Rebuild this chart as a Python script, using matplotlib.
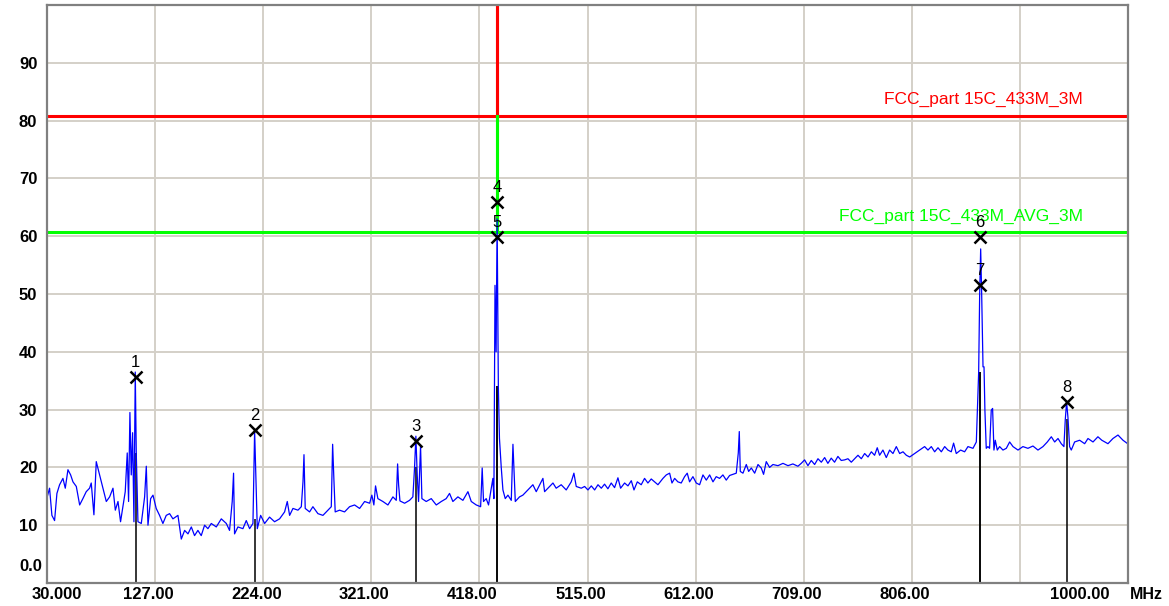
import matplotlib
matplotlib.use('Agg')
import matplotlib.pyplot as plt
from matplotlib.transforms import ScaledTranslation

# spectrum trace (MHz, dBuV/m)
trace_f = [30.2, 32.3, 34.4, 36.8, 38.9, 41.3, 44.3, 46.4, 48.8, 51.2, 53.3, 56.3, 59.3, 62.2,
           65.2, 68.2, 69.7, 72.1, 74.2, 77.2, 80.2, 83.2, 86.2, 89.2, 91.3, 93.7, 96.0, 98.1,
           100.2, 102.0, 103.2, 104.4, 105.6, 106.8, 108.0, 109.2, 110.1, 111.6, 114.6, 117.6,
           119.1, 120.6, 123.0, 125.1, 128.0, 131.0, 134.0, 137.0, 140.0, 143.0, 147.5, 150.5,
           153.5, 156.5, 159.5, 162.4, 165.4, 168.4, 171.4, 174.4, 177.4, 181.9, 186.4, 190.9,
           193.8, 196.2, 197.4, 198.3, 201.3, 205.8, 208.8, 211.8, 214.8, 216.3, 217.5, 218.7,
           221.7, 225.3, 229.7, 234.2, 238.7, 243.2, 245.6, 247.7, 250.7, 255.2, 258.2, 259.7,
           260.6, 261.7, 265.6, 268.6,
           273.1, 277.6, 282.1, 285.1, 286.3, 287.4, 288.6, 292.5, 297.0, 301.5, 306.0, 310.5,
           315.0, 319.5, 321.5, 323.3, 324.8, 326.9, 331.4, 335.9, 340.4, 343.4, 344.6, 345.5,
           346.7, 350.9, 355.3, 358.3, 359.8, 361.0, 362.2, 363.4, 365.2, 366.4, 370.3, 374.8,
           379.3, 383.8, 388.2, 391.2, 394.2, 398.7, 403.2, 407.7, 410.7, 415.2, 419.1, 420.5,
           421.7, 424.1, 426.2, 428.6, 430.1, 431.0, 432.0, 433.0, 433.9, 435.0, 436.0, 437.6,
           439.1, 441.2, 443.6, 446.6, 448.1, 449.0, 450.2, 454.0, 457.0, 461.5, 466.0, 469.0,
           475.0, 476.5, 479.5, 484.0, 486.9, 491.4, 495.9, 500.4, 502.8, 504.9, 509.4,
           512.4, 515.4, 518.4, 521.4, 524.4, 527.4, 530.3, 533.3, 536.3, 539.3, 542.3, 544.7,
           548.3, 551.3, 554.3, 556.7, 559.7, 563.2, 566.2, 569.2, 572.2, 575.2, 578.2, 582.7,
           585.7, 588.7, 590.8, 593.2, 596.1, 599.1, 602.1, 604.5, 606.6, 609.6, 612.6, 615.6,
           618.6, 621.6, 624.6, 627.6, 630.5, 633.5, 636.5, 639.5, 642.5, 645.5, 648.5, 650.3,
           651.2, 652.1, 654.5, 657.5, 659.6, 662.0, 665.0, 668.0, 670.9, 673.0, 675.4, 678.4,
           681.4, 685.9, 690.4, 694.9, 699.3, 703.8, 706.8, 709.8, 712.8, 715.8, 718.8, 721.8,
           724.8, 727.8, 730.7, 733.7, 736.7, 739.7, 742.7, 745.7, 748.7, 751.7, 754.7,
           757.7, 760.7, 763.7, 766.7, 769.7, 772.6, 775.0, 777.1, 780.1, 783.1, 786.1, 789.1,
           792.1, 795.1, 798.1, 801.1, 804.1, 808.5, 813.0, 817.5, 820.5, 823.5, 826.5, 829.5,
           832.5, 835.5, 838.4, 841.4, 843.5, 845.9, 849.8, 853.4, 856.4, 860.9, 863.9, 866.0,
           866.9, 867.8, 868.7, 869.9, 870.8, 871.6, 872.8, 874.3, 875.8, 877.3, 878.5, 879.7,
           880.9, 882.7, 884.8, 887.8, 890.8, 893.8, 896.8, 901.3, 905.7, 910.2, 914.7, 919.2,
           923.7, 927.6, 931.2, 934.2, 937.2, 940.1, 942.5, 943.7, 944.9, 946.1, 947.6, 949.1,
           952.1, 956.6, 961.1, 964.1, 968.6, 973.0, 976.5, 982.0, 986.5, 991.0, 995.5, 999.7]
trace_db = [14.9, 16.4, 11.7, 10.8, 15.5, 17.0, 18.1, 16.4, 19.6, 18.7, 17.5, 16.7, 13.5, 14.6,
            15.8, 16.4, 17.3, 11.8, 21.0, 18.7, 16.4, 14.1, 14.9, 16.4, 12.6, 14.1, 10.6, 13.2,
            15.8, 22.5, 14.1, 29.5, 18.7, 26.0, 10.6, 36.5, 22.5, 10.6, 10.3, 14.9,
            20.2, 10.0, 14.6, 15.2, 12.9, 11.7, 10.3, 11.7, 12.0, 11.1, 11.7, 7.6,
            9.1, 8.5, 9.7, 8.2, 9.1, 8.2, 10.0, 9.4, 10.3, 9.7, 11.1, 10.3,
            9.1, 14.1, 19.0, 8.5, 9.7, 9.4, 10.8, 9.4, 10.3, 26.3, 17.5, 9.4,
            11.7, 10.3, 11.4, 10.6, 11.1, 12.3, 14.1, 11.7, 12.9, 12.6, 13.2, 17.5,
            22.2, 12.9, 12.3, 13.2,
            12.0, 11.7, 12.6, 13.2, 24.0, 18.1, 12.3, 12.6, 12.3, 13.2, 13.5, 12.9,
            14.1, 13.8, 15.2, 13.5, 16.8, 14.6, 14.1, 13.5, 14.9, 14.3, 20.6, 17.0,
            14.2, 13.8, 14.3, 14.9, 19.9, 25.4, 18.7, 14.1, 23.7, 14.6, 14.1, 14.6,
            13.5, 14.1, 14.6, 15.5, 14.1, 14.9, 14.3, 15.8, 14.1, 13.5, 13.2, 19.9,
            14.1, 14.6, 13.5, 16.4, 18.1, 14.6, 51.5, 40.0, 63.0, 34.0, 25.0, 20.0,
            16.1, 14.6, 15.2, 14.3, 24.0, 19.6, 14.1, 14.9, 15.2, 16.1, 17.0, 15.8,
            18.1, 15.8, 16.4, 17.3, 16.4, 17.0, 16.1, 17.5, 19.0, 16.7, 16.4,
            16.7, 16.1, 16.8, 16.1, 17.0, 16.4, 17.1, 16.3, 17.3, 16.5, 18.2, 16.4,
            17.3, 16.8, 17.7, 16.1, 17.5, 17.0, 18.1, 17.3, 18.0, 17.5, 17.0, 18.1,
            18.7, 19.0, 17.3, 18.1, 17.5, 17.3, 18.4, 19.0, 17.5, 18.4, 17.3, 17.0,
            18.7, 17.8, 18.7, 17.5, 18.4, 18.1, 18.7, 17.8, 18.6, 18.8, 19.0, 22.5,
            26.2, 19.3, 19.0, 20.5, 19.3, 19.9, 19.0, 20.5, 19.9, 18.8, 21.0, 20.0,
            20.5, 20.3, 20.7, 20.3, 20.6, 20.2, 20.7, 21.3, 20.3, 21.2, 20.5, 21.5,
            20.9, 21.7, 20.7, 21.6, 20.9, 21.9, 21.2, 21.3, 21.5, 20.9, 21.5,
            22.1, 21.5, 22.4, 21.8, 22.7, 22.1, 23.4, 22.1, 23.0, 21.7, 23.0, 22.4,
            23.6, 22.4, 22.7, 22.1, 21.8, 22.4, 23.0, 23.6, 23.0, 23.6, 22.7, 23.4,
            22.7, 23.6, 23.0, 22.7, 24.2, 22.4, 23.0, 22.7, 23.6, 23.3, 24.4, 36.5,
            50.0, 57.8, 50.0, 37.4, 37.4, 29.9, 23.3, 23.6, 23.3, 29.9, 30.2, 23.0,
            24.7, 23.0, 23.6, 23.0, 23.3, 24.4, 23.6, 23.0, 23.6, 23.3, 23.7, 23.0,
            23.6, 24.4, 25.3, 24.4, 25.0, 24.1, 23.6, 28.2, 31.3, 28.7, 23.6, 23.0,
            24.4, 24.7, 24.1, 25.0, 24.4, 25.3, 24.7, 24.1, 25.0, 25.6, 24.7, 24.1]

# limit lines (step at the 433 MHz fundamental)
peak_limit_f = [30.0, 434.0, 434.0, 434.0, 1000.0]
peak_limit_db = [80.8, 80.8, 101.0, 80.8, 80.8]
avg_limit_f = [30.0, 434.0, 434.0, 434.0, 1000.0]
avg_limit_db = [60.8, 60.8, 80.8, 60.8, 60.8]
peak_limit_name = 'FCC_part 15C_433M_3M'
avg_limit_name = 'FCC_part 15C_433M_AVG_3M'

# markers
marker_no = [1, 2, 3, 4, 5, 6, 7, 8]
marker_f = [109.5, 216.3, 360.8, 434.0, 434.0, 866.9, 866.9, 944.9]
marker_db = [35.6, 26.4, 24.5, 66.0, 59.8, 59.8, 51.5, 31.3]
marker_avg_db = [22.5, 11.0, 20.0, 34.0, 34.0, 36.5, 36.5, 28.4]

x_ticks = [30, 127, 224, 321, 418, 515, 612, 709, 806, 903]
x_labels = ['30.000', '127.00', '224.00', '321.00', '418.00', '515.00', '612.00', '709.00', '806.00', '']
y_ticks = [0, 10, 20, 30, 40, 50, 60, 70, 80, 90]
y_labels = ['0.0', '10', '20', '30', '40', '50', '60', '70', '80', '90']


def main():
    plt.rcParams['font.family'] = ['Liberation Sans', 'DejaVu Sans']
    fig = plt.figure(figsize=(11.69, 6.06), dpi=100)
    ax = fig.add_axes([47 / 1169, 1 - 583 / 606, 1081 / 1169, 578 / 606])
    ax.set_xlim(30, 1000)
    ax.set_ylim(0, 100)

    ax.vlines(marker_f, 0, marker_avg_db, colors='black', lw=1.1, zorder=3)
    ax.plot(trace_f, trace_db, color='#0000ff', lw=0.9, zorder=4)
    ax.plot(peak_limit_f, peak_limit_db, color='#ff0000', lw=2.2, zorder=2, clip_on=True)
    ax.plot(avg_limit_f, avg_limit_db, color='#00ff00', lw=2.2, zorder=2.5)
    ax.plot(marker_f, marker_db, 'x', ms=9, mew=1.8, color='black', zorder=5)
    for n, f, db in zip(marker_no, marker_f, marker_db):
        ax.annotate(str(n), (f, db), xytext=(0, 5), textcoords='offset points',
                    ha='center', va='bottom', fontsize=12, color='black', zorder=6)

    ax.annotate(peak_limit_name, (0.958, peak_limit_db[0]), xycoords=('axes fraction', 'data'),
                xytext=(0, 8.5), textcoords='offset points', ha='right', va='baseline',
                fontsize=12.5, color='#ff0000')
    ax.annotate(avg_limit_name, (0.958, avg_limit_db[0]), xycoords=('axes fraction', 'data'),
                xytext=(0, 8), textcoords='offset points', ha='right', va='baseline',
                fontsize=12.5, color='#00ff00')

    ax.set_xticks(x_ticks)
    ax.set_xticklabels(x_labels, fontsize=12, fontweight='bold')
    ax.set_yticks(y_ticks)
    ax.set_yticklabels(y_labels, fontsize=12, fontweight='bold')
    ax.tick_params(axis='x', length=0, pad=3)
    ax.tick_params(axis='y', length=0, pad=7)
    ax.grid(True, color='#d4d0c8', lw=1.4)
    ax.set_axisbelow(True)
    ax.yaxis.get_gridlines()[0].set_visible(False)
    ax.xaxis.get_gridlines()[0].set_visible(False)

    for i, lab in enumerate(ax.get_xticklabels()):
        if i == 0:
            lab.set_transform(lab.get_transform() + ScaledTranslation(10 / 100, 0, fig.dpi_scale_trans))
        else:
            lab.set_transform(lab.get_transform() + ScaledTranslation(-7 / 100, 0, fig.dpi_scale_trans))
    zero = ax.get_yticklabels()[0]
    zero.set_transform(zero.get_transform() + ScaledTranslation(5 / 100, 18 / 100, fig.dpi_scale_trans))

    ax.annotate('1000.00', (0.955, 0), xycoords='axes fraction', xytext=(0, -3),
                textcoords='offset points', ha='center', va='top', fontsize=12, fontweight='bold')
    ax.annotate('MHz', (1.0166, 0), xycoords='axes fraction', xytext=(0, -3),
                textcoords='offset points', ha='center', va='top', fontsize=11.5, fontweight='bold',
                annotation_clip=False)

    for s in ax.spines.values():
        s.set_color('#808080')
        s.set_linewidth(1.6)
        s.set_zorder(7)

    fig.savefig('out.png', dpi=100)


if __name__ == '__main__':
    main()
